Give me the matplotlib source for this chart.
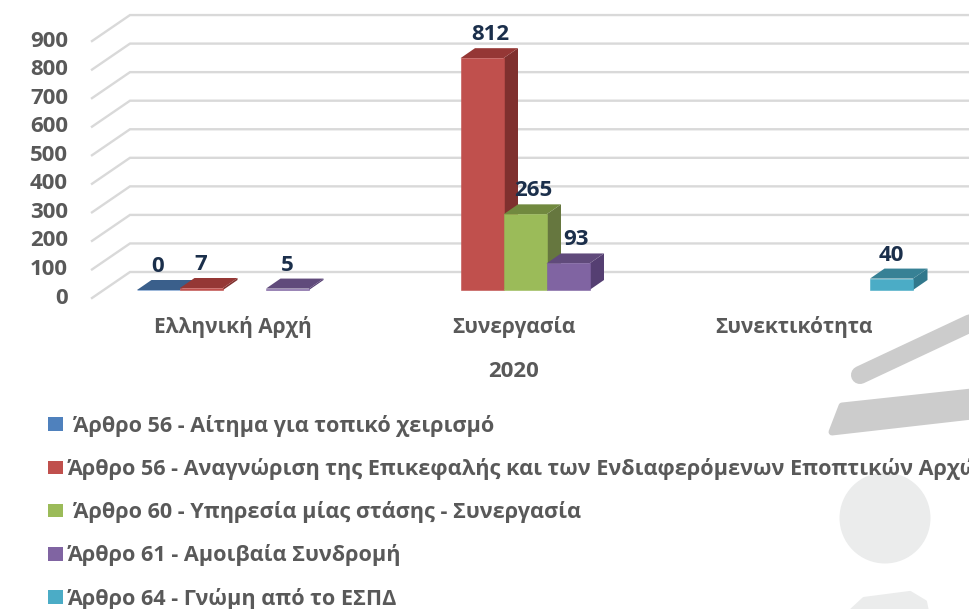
import matplotlib
matplotlib.use("Agg")
import matplotlib.pyplot as plt
from matplotlib.patches import Patch, Polygon, Circle
from matplotlib.transforms import Affine2D

plt.rcParams['font.family'] = ['Open Sans', 'DejaVu Sans']

categories = ["Ελληνική Αρχή", "Συνεργασία", "Συνεκτικότητα"]
year_label = "2020"
y_ticks = [0, 100, 200, 300, 400, 500, 600, 700, 800, 900]

series_names = [
    " Άρθρο 56 - Αίτημα για τοπικό χειρισμό",
    "Άρθρο 56 - Αναγνώριση της Επικεφαλής και των Ενδιαφερόμενων Εποπτικών Αρχών",
    " Άρθρο 60 - Υπηρεσία μίας στάσης - Συνεργασία",
    "Άρθρο 61 - Αμοιβαία Συνδρομή",
    "Άρθρο 64 - Γνώμη από το ΕΣΠΔ",
]
art56_local = [0, None, None]
art56_lead = [7, 812, None]
art60 = [None, 265, None]
art61 = [5, 93, None]
art64 = [None, None, 40]
series_values = [art56_local, art56_lead, art60, art61, art64]

front_colors = ["#4f81bd", "#c0504d", "#9bbb59", "#8064a2", "#4bacc6"]
top_colors = ["#3a5f8b", "#953735", "#71893f", "#604a7b", "#378195"]
side_colors = ["#2f4d72", "#7f302e", "#66773f", "#553f72", "#31788c"]

W, H = 970, 609
GRAY = "#595959"
NAVY = "#1b2f4b"

fig = plt.figure(figsize=(W / 100, H / 100), dpi=100)
ax = fig.add_axes([0, 0, 1, 1])

# one category = 280.5 px, one value unit = 0.2855 px, zero sits at y=290 px
px_x = 280.5
px_y = 0.2855
ax.set_xlim((0 - 244.5) / px_x, (W - 244.5) / px_x)
ax.set_ylim((290 - H) / px_y, 290 / px_y)
ax.axis("off")

bar_w = 43 / px_x
depth_x = 14.5 / px_x
depth_y = 10 / px_y
# data labels sit further right on the Συνεργασία group
label_dx = [21 / px_x, 29.5 / px_x, 21 / px_x]

# logo shapes in the background, given in image pixels
pix = Affine2D().scale(1, -1).translate(0, H)
ax.plot([860, 990], [375, 314], color="#cccccc", lw=13, solid_capstyle="round",
        transform=pix, zorder=0)
ax.add_patch(Polygon([(842, 406), (990, 390), (990, 414), (832, 432)], closed=True,
                     fc="#cccccc", ec="#cccccc", lw=5, joinstyle="round", transform=pix, zorder=0))
ax.add_patch(Circle((885, 518), 45.5, fc="#ebecec", ec="none", transform=pix, zorder=0))
ax.add_patch(Polygon([(850, 612), (864, 599), (910, 593), (925, 602), (927, 612)], closed=True,
                     fc="#ebecec", ec="#ebecec", lw=3, joinstyle="round", transform=pix, zorder=0))

# gridlines: slanted wall part, then back wall
x_front = (92 - 244.5) / px_x
x_back = (130 - 244.5) / px_x
x_end = (W - 244.5) / px_x
for v in y_ticks:
    y_f = v - 8 / px_y
    y_b = v + 18 / px_y
    ax.plot([x_front, x_back, x_end], [y_f, y_b, y_b], color="#d9d9d9", lw=1.7,
            solid_joinstyle="miter", zorder=1)
    ax.text((68 - 244.5) / px_x, y_f, str(v), ha="right", va="center",
            color=GRAY, fontsize=16, fontweight="bold", zorder=5)

for i, values in enumerate(series_values):
    for c, v in enumerate(values):
        if v is None:
            continue
        x0 = c + (i - 2.5) * bar_w
        x1 = x0 + bar_w
        ax.add_patch(Polygon([(x1, 0), (x1 + depth_x, depth_y), (x1 + depth_x, v + depth_y), (x1, v)],
                             closed=True, fc=side_colors[i], ec="none", zorder=2 + i * 0.1))
        ax.add_patch(Polygon([(x0, v), (x1, v), (x1 + depth_x, v + depth_y), (x0 + depth_x, v + depth_y)],
                             closed=True, fc=top_colors[i], ec="none", zorder=2 + i * 0.1))
        ax.bar(x0, v, width=bar_w, align="edge", color=front_colors[i],
               edgecolor=front_colors[i], linewidth=0.4, zorder=2.05 + i * 0.1)
        ax.text(x0 + label_dx[c], v + depth_y + 13.5 / px_y, str(v), ha="center", va="center",
                color=NAVY, fontsize=16, fontweight="bold", zorder=6)

for c, name in enumerate(categories):
    ax.text(c - 11.5 / px_x, -37 / px_y, name, ha="center", va="center",
            color=GRAY, fontsize=15, fontweight="bold", zorder=5)
ax.text(1 - 11.5 / px_x, -81 / px_y, year_label, ha="center", va="center",
        color=GRAY, fontsize=16, fontweight="bold", zorder=5)

handles = [Patch(fc=front_colors[i], ec="none", label=series_names[i]) for i in range(5)]
leg = ax.legend(handles=handles, loc="upper left", bbox_to_anchor=(48 / W, 1 - 415 / H),
                frameon=False, ncols=1, fontsize=15.6, labelspacing=0.975, handlelength=0.69,
                handleheight=0.6, handletextpad=0.22, borderpad=0, borderaxespad=0)
for t in leg.get_texts():
    t.set_color(GRAY)
    t.set_fontweight("bold")
leg.set_zorder(5)

fig.savefig("out.png", dpi=100)
plt.close(fig)
